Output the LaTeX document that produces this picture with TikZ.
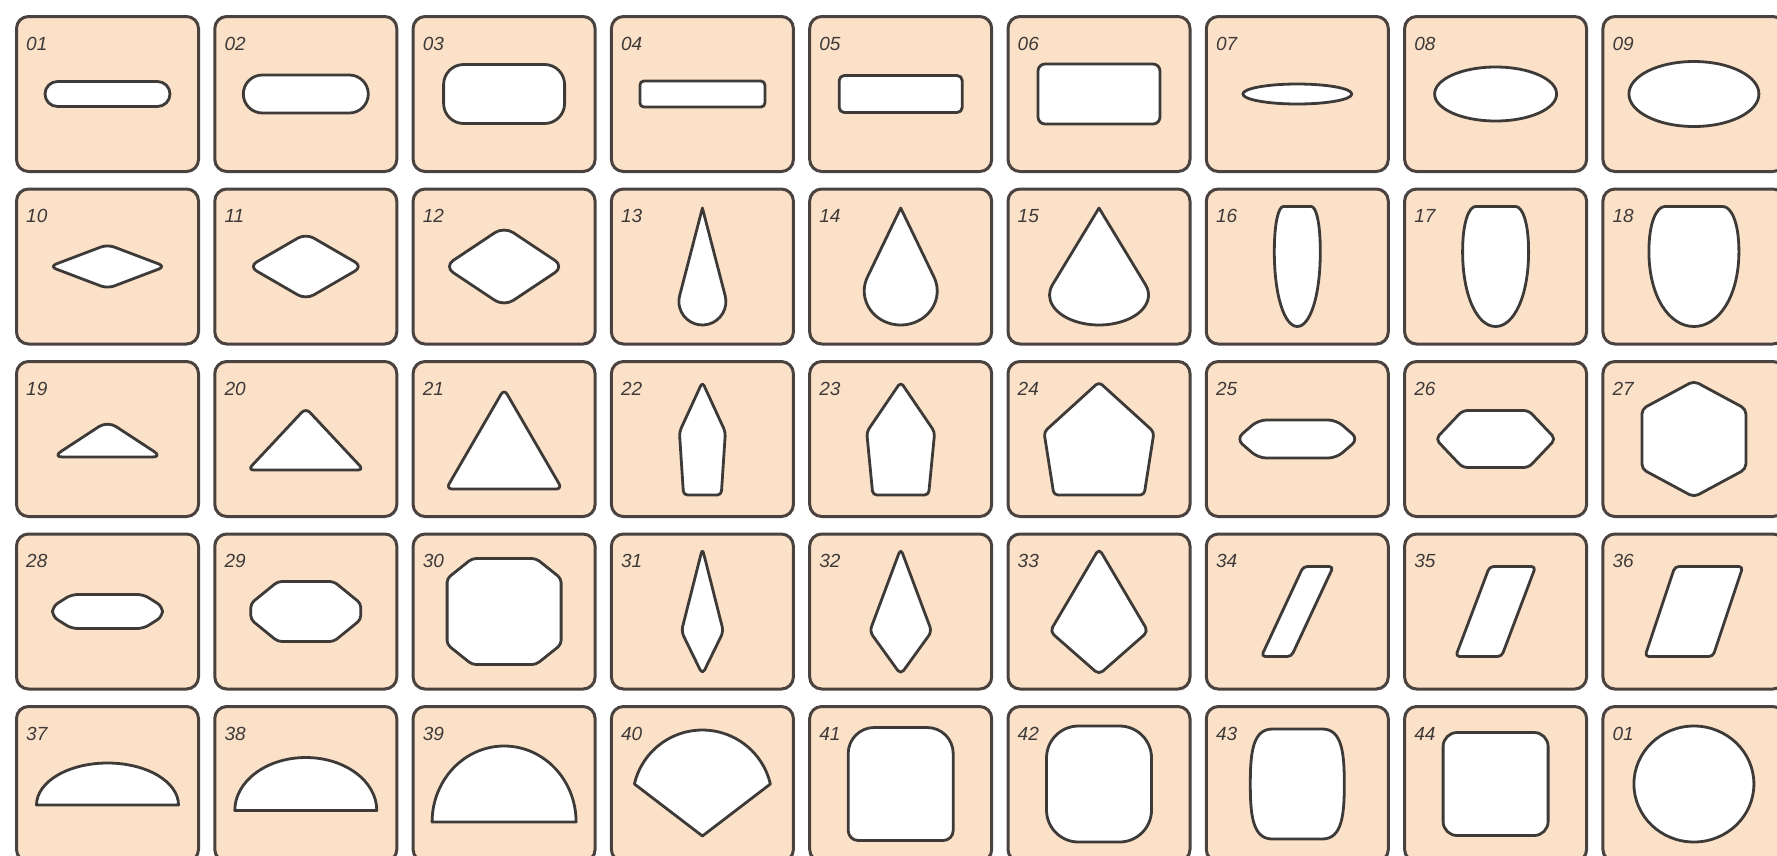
\documentclass[tikz,border=0pt]{standalone}
\usepackage{fontspec}
\setmainfont{Liberation Sans}
\definecolor{peach}{RGB}{252,225,201}
\definecolor{rim}{RGB}{74,66,62}
\definecolor{ink}{RGB}{62,58,56}

\begin{document}
\begin{tikzpicture}[x=1pt, y=1pt,
		cell/.style={rectangle, rounded corners=12pt, draw=rim, line width=3pt, fill=peach,
			minimum width=182pt, minimum height=155pt, inner sep=0pt},
		lbl/.style={anchor=north west, inner sep=0pt, text=ink, font=\fontsize{19}{20}\selectfont\itshape},
		shp/.style={draw=ink, fill=white, line width=2.8pt, line join=round}
	]
	\useasboundingbox (0,0) rectangle (1777,-855);
	\clip (0,0) rectangle (1777,-855);
	\fill[white] (0,0) rectangle (1777,-855);
	% cells with their numbers
	\foreach \lab [count=\n] in {01,02,03,04,05,06,07,08,09,10,11,12,13,14,15,16,17,18,19,20,21,22,23,24,25,26,27,28,29,30,31,32,33,34,35,36,37,38,39,40,41,42,43,44,01} {
		\pgfmathtruncatemacro\col{mod(\n-1,9)}
		\pgfmathtruncatemacro\row{div(\n-1,9)}
		\node[cell] (c\n) at ({107.5+198.3*\col},{-94-172.5*\row}) {};
		\node[lbl] (l\n) at ([shift={(11,-22)}]c\n.north west) {\lab};
	}
	% row 1
	\foreach \n/\xa/\yb/\rc in {1/125/25/12.5, 2/125/38/19, 3/121/59/20, 4/125/26/4, 5/123/37/5, 6/122/60/7}
		\draw[shp, shift={(c\n.center)}, rounded corners=\rc pt] ({-\xa/2},{-\yb/2}) rectangle ({\xa/2},{\yb/2});
	\foreach \n/\xa/\yb in {7/54.5/10, 8/61/27, 9/65/32.5}
		\draw[shp, shift={(c\n.center)}] (0,0) ellipse [x radius=\xa, y radius=\yb];
	% row 2
	\foreach \n/\xa/\yb/\rc in {10/58/22/7, 11/57/33/9, 12/60/40/11}
		\draw[shp, shift={(c\n.center)}, rounded corners=\rc pt] (-\xa,0) -- (0,\yb) -- (\xa,0) -- (0,-\yb) -- cycle;
	\foreach \n/\rc/\ry in {13/23.5/23.5, 14/36.5/34, 15/49.5/30} {
		\pgfmathsetmacro\tq{asin(\ry/(117-\ry))}
		\draw[shp, shift={(c\n.center)}] (0,58.5) -- ({\rc*cos(\tq)},{-58.5+\ry+\ry*sin(\tq)})
			arc[start angle=\tq, end angle=-180-\tq, x radius=\rc, y radius=\ry] -- cycle;
	}
	\foreach \n/\xa/\tq in {16/23/14, 17/33/20, 18/45/29}
		\draw[shp, shift={(c\n.center)}] (-\tq,60) -- (\tq,60) .. controls ({(\tq+\xa)/2},60) and (\xa,45) .. (\xa,15)
			.. controls (\xa,-30) and ({0.55*\xa},-60) .. (0,-60) .. controls ({-0.55*\xa},-60) and (-\xa,-30) .. (-\xa,15)
			.. controls (-\xa,45) and ({-(\tq+\xa)/2},60) .. cycle;
	% row 3
	\foreach \n/\xa/\yb/\rc in {19/55/18/10, 20/58/31/6, 21/58/50/6}
		\draw[shp, shift={(c\n.center)}, rounded corners=\rc pt] (-\xa,-\yb) -- (\xa,-\yb) -- (0,\yb) -- cycle;
	\foreach \n/\xa in {22/23, 23/34, 24/55}
		\draw[shp, shift={(c\n.center)}, rounded corners=4pt] (0,57) -- (\xa,7) -- ({0.82*\xa},-56) -- ({-0.82*\xa},-56) -- (-\xa,7) -- cycle;
	\foreach \n/\xa/\tq/\yb/\rc in {25/61/39/19/8, 26/60/33/28.5/5}
		\draw[shp, shift={(c\n.center)}, rounded corners=\rc pt] (-\xa,0) -- (-\tq,\yb) -- (\tq,\yb) -- (\xa,0) -- (\tq,-\yb) -- (-\tq,-\yb) -- cycle;
	\draw[shp, shift={(c27.center)}, rounded corners=5pt] (0,58) -- (52,30) -- (52,-30) -- (0,-58) -- (-52,-30) -- (-52,30) -- cycle;
	% row 4
	\foreach \n/\xa/\yb/\xq/\yp/\rc in {28/55/17/36/5/6, 29/55/30/28/8/4, 30/57/53/32/33/4}
		\draw[shp, shift={(c\n.center)}, rounded corners=\rc pt] (-\xa,-\yp) -- (-\xa,\yp) -- (-\xq,\yb) -- (\xq,\yb)
			-- (\xa,\yp) -- (\xa,-\yp) -- (\xq,-\yb) -- (-\xq,-\yb) -- cycle;
	\foreach \n/\xa in {31/21, 32/31, 33/49}
		\draw[shp, shift={(c\n.center)}, rounded corners=5pt] (0,63) -- (\xa,-20) -- (0,-63) -- (-\xa,-20) -- cycle;
	\foreach \n/\xa/\xb in {34/6/36, 35/-6/40, 36/-19/49}
		\draw[shp, shift={(c\n.center)}, rounded corners=4pt] (\xa,45) -- (\xb,45) -- (-\xa,-45) -- (-\xb,-45) -- cycle;
	% row 5
	\foreach \n/\xa/\yb in {37/71/42, 38/71/53, 39/72/76}
		\draw[shp, shift={(c\n.center)}] (-\xa,{-\yb/2}) arc[start angle=180, end angle=0, x radius=\xa, y radius=\yb] -- cycle;
	\draw[shp, shift={(c40.center)}] (0,-52) -- (-68,0) arc[start angle=166.9, end angle=13.1, radius=69.8] -- cycle;
	\draw[shp, shift={(c41.center)}] (-52.5,0) [rounded corners=26pt] -- (-52.5,56.5) -- (52.5,56.5) -- (52.5,0)
		[rounded corners=10pt] -- (52.5,-56.5) -- (-52.5,-56.5) -- cycle;
	\draw[shp, shift={(c42.center)}, rounded corners=32pt] (-52.5,-58) rectangle (52.5,58);
	\draw[shp, shift={(c43.center)}] (-25,55) -- (25,55) .. controls (45,55) and (47,30) .. (47,0) .. controls (47,-30) and (45,-55) .. (25,-55)
		-- (-25,-55) .. controls (-45,-55) and (-47,-30) .. (-47,0) .. controls (-47,30) and (-45,55) .. cycle;
	\draw[shp, shift={(c44.center)}, rounded corners=14pt] (-52.5,-51.5) rectangle (52.5,51.5);
	\draw[shp, shift={(c45.center)}] (0,0) ellipse [x radius=60, y radius=58];
\end{tikzpicture}
\end{document}
